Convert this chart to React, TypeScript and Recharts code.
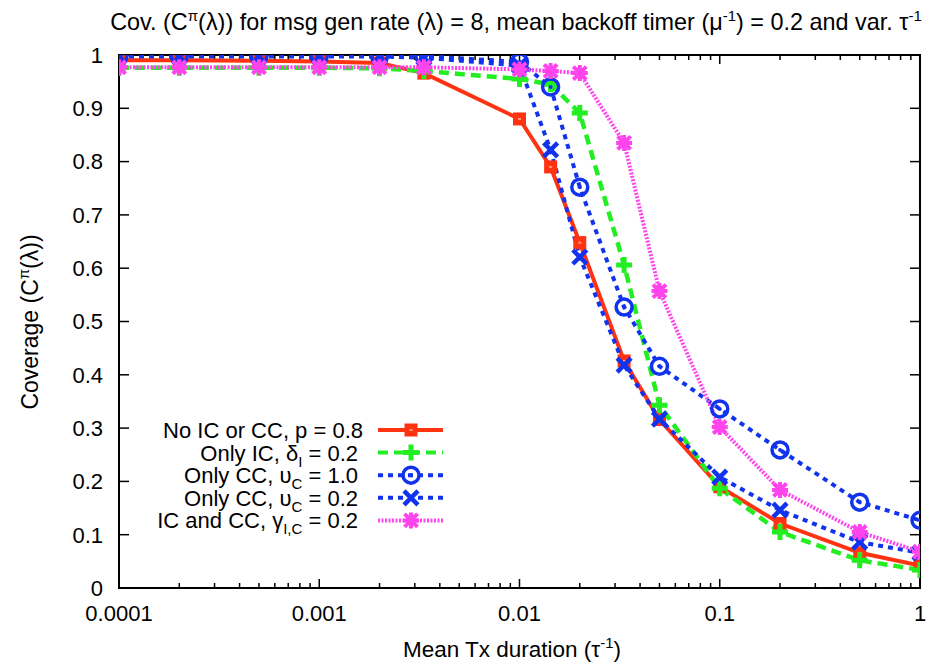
import React from 'react';
import { LineChart, Line, XAxis, YAxis, ReferenceLine, ReferenceArea } from 'recharts';

// ---- data ----
const X_VALUES = [0.0001, 0.0002, 0.0005, 0.001, 0.002, 0.00333, 0.01, 0.0143, 0.02, 0.0333, 0.05, 0.1, 0.2, 0.5, 1];
const NO_IC_CC = [0.99, 0.99, 0.989, 0.988, 0.985, 0.966, 0.88, 0.79, 0.648, 0.426, 0.316, 0.19, 0.121, 0.066, 0.042];
const ONLY_IC = [0.976, 0.976, 0.976, 0.976, 0.975, 0.97, 0.955, 0.945, 0.891, 0.606, 0.343, 0.187, 0.105, 0.052, 0.034];
const ONLY_CC_10 = [0.998, 0.998, 0.998, 0.998, 0.998, 0.998, 0.987, 0.94, 0.752, 0.527, 0.416, 0.336, 0.259, 0.161, 0.127];
const ONLY_CC_02 = [0.997, 0.997, 0.997, 0.997, 0.997, 0.995, 0.98, 0.822, 0.621, 0.418, 0.317, 0.208, 0.146, 0.086, 0.066];
const IC_AND_CC = [0.977, 0.977, 0.977, 0.977, 0.977, 0.977, 0.973, 0.97, 0.966, 0.835, 0.557, 0.302, 0.184, 0.105, 0.068];

const X_TICKS = [0.0001, 0.001, 0.01, 0.1, 1];
const X_MINOR = [2, 3, 4, 5, 6, 7, 8, 9];
const Y_TICKS = [0, 0.1, 0.2, 0.3, 0.4, 0.5, 0.6, 0.7, 0.8, 0.9, 1];

const data = X_VALUES.map((x, i) => ({
  x,
  red: NO_IC_CC[i],
  green: ONLY_IC[i],
  blueC: ONLY_CC_10[i],
  blueX: ONLY_CC_02[i],
  pink: IC_AND_CC[i],
}));

const RED = '#ff3311';
const GREEN = '#22ee22';
const BLUE = '#1133ee';
const PINK = '#ff44ee';
const FONT = '"Liberation Sans", Arial, Helvetica, sans-serif';

// ---- markers ----
const Square = ({ cx, cy }: any) =>
  cx == null ? null : (
    <g>
      <rect x={cx - 6.5} y={cy - 6.5} width={13} height={13} fill={RED} />
      <rect x={cx - 1.5} y={cy - 1} width={3} height={2} fill="#ff9977" />
    </g>
  );
const Plus = ({ cx, cy }: any) =>
  cx == null ? null : (
    <path d={`M${cx - 8},${cy}H${cx + 8}M${cx},${cy - 8}V${cy + 8}`} stroke={GREEN} strokeWidth={5} fill="none" />
  );
const CircleDot = ({ cx, cy }: any) =>
  cx == null ? null : (
    <g>
      <circle cx={cx} cy={cy} r={8} stroke={BLUE} strokeWidth={3.5} fill="none" />
      <circle cx={cx} cy={cy} r={2} fill={BLUE} />
    </g>
  );
const Cross = ({ cx, cy }: any) =>
  cx == null ? null : (
    <path d={`M${cx - 7},${cy - 7}L${cx + 7},${cy + 7}M${cx - 7},${cy + 7}L${cx + 7},${cy - 7}`} stroke={BLUE} strokeWidth={4.5} fill="none" />
  );
const Star = ({ cx, cy }: any) =>
  cx == null ? null : (
    <path
      d={`M${cx - 8},${cy}H${cx + 8}M${cx},${cy - 8}V${cy + 8}M${cx - 6.5},${cy - 6.5}L${cx + 6.5},${cy + 6.5}M${cx - 6.5},${cy + 6.5}L${cx + 6.5},${cy - 6.5}`}
      stroke={PINK}
      strokeWidth={4}
      fill="none"
    />
  );

const sq = (p: any) => <Square key={p.key} cx={p.cx} cy={p.cy} />;
const pl = (p: any) => <Plus key={p.key} cx={p.cx} cy={p.cy} />;
const cd = (p: any) => <CircleDot key={p.key} cx={p.cx} cy={p.cy} />;
const cr = (p: any) => <Cross key={p.key} cx={p.cx} cy={p.cy} />;
const st = (p: any) => <Star key={p.key} cx={p.cx} cy={p.cy} />;

// tick lengths in data units
const PLOT_H = 533;
const PLOT_W = 801;
const yLen = (px: number) => px / PLOT_H;
const xFactor = (px: number) => Math.pow(10, (px / PLOT_W) * 4);

const tickSegments = () => {
  const out: any[] = [];
  const stroke = '#000';
  X_TICKS.forEach((t, i) => {
    out.push(<ReferenceLine key={`xb${i}`} segment={[{ x: t, y: 0 }, { x: t, y: yLen(9) }]} stroke={stroke} strokeWidth={1.5} />);
    out.push(<ReferenceLine key={`xt${i}`} segment={[{ x: t, y: 1 }, { x: t, y: 1 - yLen(9) }]} stroke={stroke} strokeWidth={1.5} />);
    if (t < 1) {
      X_MINOR.forEach((m) => {
        const v = t * m;
        out.push(<ReferenceLine key={`mb${i}-${m}`} segment={[{ x: v, y: 0 }, { x: v, y: yLen(5) }]} stroke={stroke} strokeWidth={1.5} />);
        out.push(<ReferenceLine key={`mt${i}-${m}`} segment={[{ x: v, y: 1 }, { x: v, y: 1 - yLen(5) }]} stroke={stroke} strokeWidth={1.5} />);
      });
    }
  });
  Y_TICKS.forEach((y, i) => {
    out.push(<ReferenceLine key={`yl${i}`} segment={[{ x: 0.0001, y }, { x: 0.0001 * xFactor(10), y }]} stroke={stroke} strokeWidth={1.5} />);
    out.push(<ReferenceLine key={`yr${i}`} segment={[{ x: 1, y }, { x: 1 / xFactor(10), y }]} stroke={stroke} strokeWidth={1.5} />);
  });
  return out;
};

const SUB = 15;
const LEGEND = [
  { label: (<>No IC or CC, p = 0.8</>), color: RED, dash: undefined, M: Square, right: 363 },
  { label: (<>Only IC, δ<tspan fontSize={SUB} dy={6}>I</tspan><tspan dy={-6}> = 0.2</tspan></>), color: GREEN, dash: '10 6', M: Plus, right: 358 },
  { label: (<>Only CC, υ<tspan fontSize={SUB} dy={6}>C</tspan><tspan dy={-6}> = 1.0</tspan></>), color: BLUE, dash: '5 5', M: CircleDot, right: 358 },
  { label: (<>Only CC, υ<tspan fontSize={SUB} dy={6}>C</tspan><tspan dy={-6}> = 0.2</tspan></>), color: BLUE, dash: '5 5', M: Cross, right: 358 },
  { label: (<>IC and CC, γ<tspan fontSize={SUB} dy={6}>I,C</tspan><tspan dy={-6}> = 0.2</tspan></>), color: PINK, dash: '2 1.5', M: Star, right: 358 },
];

export default function App() {
  return (
    <div style={{ position: 'absolute', left: 0, top: 0, width: 930, height: 662, background: '#fff' }}>
      <LineChart width={930} height={662} data={data} margin={{ top: 55, right: 10, left: 59, bottom: 34 }}>
        <XAxis
          dataKey="x"
          type="number"
          scale="log"
          domain={[0.0001, 1]}
          ticks={X_TICKS}
          allowDataOverflow
          axisLine={false}
          tickLine={false}
          tickSize={0}
          tickMargin={17}
          height={40}
          tick={{ fill: '#000', fontSize: 22, fontFamily: FONT }}
          tickFormatter={(v: number) => String(v)}
        />
        <YAxis
          type="number"
          domain={[0, 1]}
          ticks={Y_TICKS}
          allowDataOverflow
          axisLine={false}
          tickLine={false}
          tickSize={0}
          tickMargin={16}
          width={60}
          tick={{ fill: '#000', fontSize: 22, fontFamily: FONT }}
          tickFormatter={(v: number) => String(v)}
        />
        {tickSegments()}
        <Line type="linear" dataKey="red" stroke={RED} strokeWidth={4} dot={sq} activeDot={false} isAnimationActive={false} />
        <Line type="linear" dataKey="green" stroke={GREEN} strokeWidth={4.5} strokeDasharray="10 6" dot={pl} activeDot={false} isAnimationActive={false} />
        <Line type="linear" dataKey="blueC" stroke={BLUE} strokeWidth={4} strokeDasharray="5 5" dot={cd} activeDot={false} isAnimationActive={false} />
        <Line type="linear" dataKey="blueX" stroke={BLUE} strokeWidth={4} strokeDasharray="5 5" dot={cr} activeDot={false} isAnimationActive={false} />
        <Line type="linear" dataKey="pink" stroke={PINK} strokeWidth={4} strokeDasharray="2 1.5" dot={st} activeDot={false} isAnimationActive={false} />
        <ReferenceArea x1={0.0001} x2={1} y1={0} y2={1} fill="none" fillOpacity={0} stroke="#000" strokeWidth={2} ifOverflow="visible" />
      </LineChart>
      <svg width={930} height={662} style={{ position: 'absolute', left: 0, top: 0, pointerEvents: 'none' }} fontFamily={FONT}>
        <text x={516} y={30} textAnchor="middle" fontSize={23.4} fill="#000">
          Cov. (C<tspan fontSize={15} dy={-9}>π</tspan><tspan dy={9}>(λ)) for msg gen rate (λ) = 8, mean backoff timer (μ</tspan>
          <tspan fontSize={15} dy={-9}>-1</tspan><tspan dy={9}>) = 0.2 and var. τ</tspan>
          <tspan fontSize={15} dy={-9}>-1</tspan>
        </text>
        <text transform="translate(38,322) rotate(-90)" textAnchor="middle" fontSize={23} fill="#000">
          Coverage (C<tspan fontSize={15} dy={-9}>π</tspan><tspan dy={9}>(λ))</tspan>
        </text>
        <text x={512} y={657} textAnchor="middle" fontSize={22.5} fill="#000">
          Mean Tx duration (τ<tspan fontSize={15} dy={-9}>-1</tspan><tspan dy={9}>)</tspan>
        </text>
        {LEGEND.map((l, i) => {
          const y = 430 + i * 22.6;
          const M = l.M;
          return (
            <g key={i}>
              <text x={l.right} y={y + 8} textAnchor="end" fontSize={22} fill="#000">
                {l.label}
              </text>
              <line x1={378} x2={443} y1={y} y2={y} stroke={l.color} strokeWidth={4} strokeDasharray={l.dash} />
              <M cx={411} cy={y} />
            </g>
          );
        })}
      </svg>
    </div>
  );
}
